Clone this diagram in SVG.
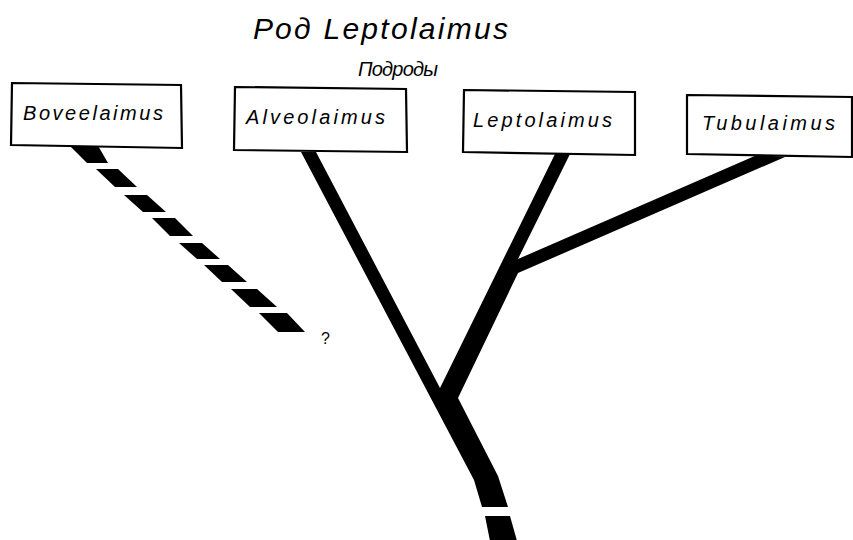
<svg xmlns="http://www.w3.org/2000/svg" width="853" height="540" viewBox="0 0 853 540">
<style>
.t{font-family:"Liberation Sans","DejaVu Sans",sans-serif;font-style:italic;fill:#000}
.q{font-family:"Liberation Sans","DejaVu Sans",sans-serif;font-style:normal;fill:#000}
.box{fill:#fff;stroke:#000;stroke-width:2.2}
.br{fill:#000;stroke:none}
</style>
<rect width="853" height="540" fill="#fff"/>
<text class="t" x="253" y="39" font-size="30" textLength="255" lengthAdjust="spacing">Род Leptolaimus</text>
<text class="t" x="358" y="76" font-size="20" textLength="80" lengthAdjust="spacing">Подроды</text>
<g id="connectors">
<path class="br" d="M301,152 L316,152 L440,388 L555,154 L570,154 L518,259 L757,155 L785,157 L518,273 L458,398 L498,476 L508,507 L482,507 L474,480 Z"/>
<path class="br" d="M485,516 L510,516 L517,541 L490,541 Z"/>
<g id="boveelaimus-dashes">
<polygon class="br" points="68,144 97,144 108,163 87,163"/>
<polygon class="br" points="96,169 118,169 137,187 115,187"/>
<polygon class="br" points="124,195 147,195 166,212 143,212"/>
<polygon class="br" points="152,218 175,218 193,236 170,236"/>
<polygon class="br" points="179,243 202,243 220,259 197,259"/>
<polygon class="br" points="204,265 228,265 247,282 222,282"/>
<polygon class="br" points="231,289 257,289 277,307 250,307"/>
<polygon class="br" points="259,313 287,313 305,332 278,332"/>
</g>
<text class="q" x="321" y="344" font-size="16">?</text>
</g>
<g id="node-boveelaimus">
<polygon class="box" points="12,83 181,85 182,148 11,145"/>
<text class="t" x="23" y="120" font-size="20" textLength="140" lengthAdjust="spacing">Boveelaimus</text>
</g>
<g id="node-alveolaimus">
<polygon class="box" points="235,87 406,89 407,152 234,150"/>
<text class="t" x="246" y="124" font-size="20" textLength="139" lengthAdjust="spacing">Alveolaimus</text>
</g>
<g id="node-leptolaimus">
<polygon class="box" points="464,90 635,92 635,155 463,152"/>
<text class="t" x="473" y="127" font-size="20" textLength="139" lengthAdjust="spacing">Leptolaimus</text>
</g>
<g id="node-tubulaimus">
<polygon class="box" points="687,95 852,97 852,157 687,154"/>
<text class="t" x="702" y="130" font-size="20" textLength="133" lengthAdjust="spacing">Tubulaimus</text>
</g>
</svg>
